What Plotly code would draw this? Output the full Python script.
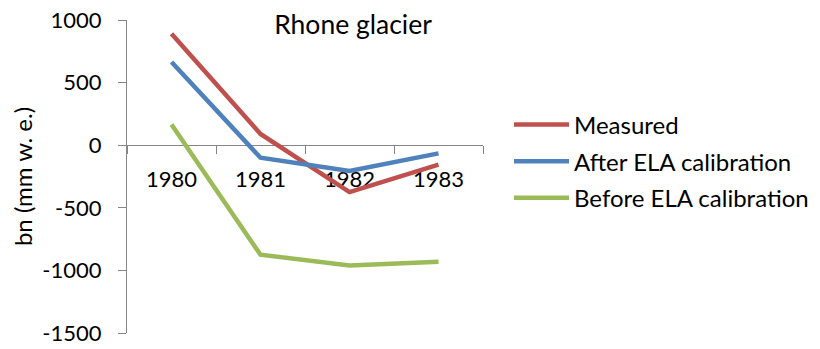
import plotly.graph_objects as go

years = ["1980", "1981", "1982", "1983"]
measured = [890, 90, -375, -155]
after_ela = [665, -100, -205, -65]
before_ela = [165, -875, -960, -930]
series_names = ["Measured", "After ELA calibration", "Before ELA calibration"]
colors = ["#C0504D", "#4F81BD", "#9BBB59"]
y_ticks = [-1500, -1000, -500, 0, 500, 1000]
y_tick_text = ["-1500", "-1000", "-500", "0", "500", "1000"]

FONT = "Lato"
fig = go.Figure()
for i, (name, vals, c) in enumerate(zip(series_names, [measured, after_ela, before_ela], colors)):
    fig.add_trace(go.Scatter(x=years, y=vals, name=name, mode="lines",
                             line=dict(color=c, width=4.5), legendgroup=str(i)))

fig.update_layout(
    width=820, height=349,
    margin=dict(l=127, r=337, t=19.5, b=16, autoexpand=False),
    paper_bgcolor="white", plot_bgcolor="white",
    font=dict(family=FONT, size=22, color="black"),
    showlegend=True,
    legend=dict(x=(509 - 127) / 356, xanchor="left", y=1 - (102 - 19.5) / 313.5, yanchor="top",
                font=dict(size=24), tracegroupgap=2.5, bgcolor="rgba(0,0,0,0)",
                itemwidth=55),
    title=dict(text="Rhone glacier", x=353 / 820, xanchor="center", xref="container",
               y=1 - 25 / 349, yanchor="middle", yref="container",
               font=dict(size=26.5, family=FONT)),
)
fig.update_xaxes(type="category", range=[-0.5, 3.5], anchor="free", position=0.6,
                 showline=True, linecolor="#868686", linewidth=1.3,
                 ticks="outside", ticklen=8, tickcolor="#868686", tickson="boundaries",
                 showgrid=False, zeroline=False, layer="below traces",
                 ticklabelstandoff=14, automargin=False,
                 tickfont=dict(size=22, family=FONT))
fig.update_yaxes(range=[-1500, 1000], tickvals=y_ticks, ticktext=y_tick_text, showline=True,
                 linecolor="#868686", linewidth=1.3, ticks="outside", ticklen=8,
                 tickcolor="#868686", showgrid=False, zeroline=False,
                 layer="below traces", ticklabelstandoff=12, automargin=False,
                 title=dict(text="bn (mm w. e.)", standoff=2, font=dict(size=24, family=FONT)),
                 tickfont=dict(size=22, family=FONT))

fig.write_html("out.html")
